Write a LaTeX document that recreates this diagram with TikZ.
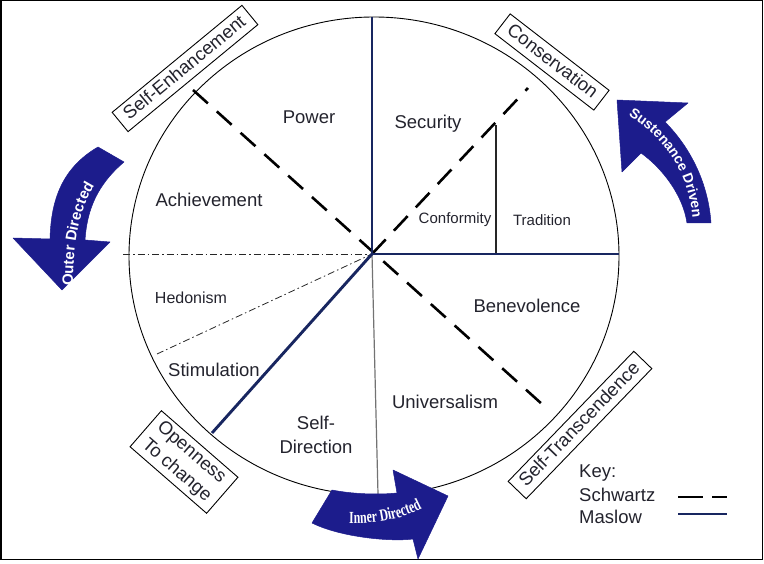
\documentclass[tikz,border=0pt]{standalone}
\usepackage{fontspec}
\setmainfont{Liberation Sans}
\newfontfamily\arrowserif[FakeStretch=0.7]{Liberation Serif}
\usetikzlibrary{decorations.text}
\definecolor{arrowblue}{RGB}{28,28,140}
\definecolor{maslow}{RGB}{24,38,96}
\definecolor{labeltext}{RGB}{35,35,45}
\begin{document}
\begin{tikzpicture}[x=1pt,y=-1pt,
  lbl/.style={font=\fontsize{18.5}{22}\selectfont, text=labeltext, inner sep=0pt},
  smalllbl/.style={font=\fontsize{15}{18}\selectfont, text=labeltext, inner sep=0pt},
  catbox/.style={draw=black, line width=0.9pt, fill=white, font=\fontsize{18.5}{23}\selectfont,
    text=labeltext, inner xsep=8pt, inner ysep=4pt, text height=13.5pt, text depth=3.5pt},
  schwartz/.style={line width=2.6pt, dash pattern=on 20pt off 12pt, black},
  maslowline/.style={line width=2.9pt, maslow},
  dashdot/.style={line width=0.8pt, dash pattern=on 7pt off 3pt on 1.5pt off 3pt, black!85},
  bigarrow/.style={fill=arrowblue, draw=arrowblue, line width=0.5pt, line join=round},
]
\useasboundingbox (0,0) rectangle (764,564);
\draw[line width=1.5pt] (0.75,0.75) rectangle (762.5,559.5);

% circle
\coordinate (oc) at (374,256);
\draw[line width=0.9pt] (oc) ellipse [x radius=245pt, y radius=239pt];

% coordinates
\coordinate (c) at (372,254);
\coordinate (mTop) at (372,17);
\coordinate (mRight) at (619,254);
\coordinate (mLL) at (212,433);
\coordinate (sTL) at (193,90);
\coordinate (sBR) at (543,405);
\coordinate (sTR) at (528,88);
\coordinate (hL) at (123,254);
\coordinate (dL) at (157,354);
\coordinate (gB) at (378,494);
\coordinate (tT) at (496,125);
\coordinate (tB) at (496,254);

% thin lines
\draw[dashdot] (hL) -- (c);
\draw[dashdot] (dL) -- (c);
\draw[line width=1.2pt, black!55] (c) -- (gB);
\draw[line width=1.2pt, black!85] (tT) -- (tB);
% Schwartz
\draw[schwartz] (sTL) -- (sBR);
\draw[schwartz] (c) -- (sTR);
% Maslow
\draw[maslowline] (mTop) -- (c);
\draw[maslowline] (c) -- (mRight);
\draw[maslowline] (c) -- (mLL);

% value labels
\node[lbl] (power) at (309,117) {Power};
\node[lbl] (security) at (428,124) {Security};
\node[lbl] (achieve) at (209,200) {Achievement};
\node[smalllbl] (conform) at (455,220) {Conformity};
\node[smalllbl] (trad) at (542,220) {Tradition};
\node[smalllbl, font=\fontsize{16}{18}\selectfont] (hedon) at (191,298) {Hedonism};
\node[lbl] (benev) at (527,306) {Benevolence};
\node[lbl] (stim) at (214,370) {Stimulation};
\node[lbl] (univ) at (445,402) {Universalism};
\node[lbl, align=center, font=\fontsize{18.5}{24}\selectfont] (selfdir) at (316,435) {Self-\\Direction};

% category boxes
\node[catbox, rotate=39.5] (selfenh) at (185,68.5) {Self-Enhancement};
\node[catbox, rotate=-37.7] (conserv) at (552,62) {Conservation};
\node[catbox, rotate=46] (selftr) at (580,425) {Self-Transcendence};
\node[catbox, rotate=-41, align=left, text height=, text depth=] (open) at (184,462) {Openness\\To change};

% big arrows
\fill[bigarrow] (617,100) -- (688,103) -- (665,122)
  .. controls (688,145) and (708,180) .. (711,223) -- (687,223)
  .. controls (683,195) and (662,168) .. (641,153) -- (622,172) -- cycle;
\path[decorate, decoration={text along path, text align=center,
  text={|\fontsize{14}{14}\selectfont\bfseries\color{white}|Sustenance Driven}}]
  (623,112) .. controls (655,130) and (690,165) .. (693,224);

\fill[bigarrow] (62,290) -- (13,238) -- (50,239)
  .. controls (51,200) and (62,168) .. (98,147) -- (124,162)
  .. controls (97,185) and (87,210) .. (85,240) -- (110,242) -- cycle;
\path[decorate, decoration={text along path, text align=left,
  text={|\fontsize{15}{15}\selectfont\bfseries\color{white}|Outer Directed}}]
  (73,286) .. controls (73,225) and (85,185) .. (118,160);

\fill[bigarrow] (312,523) -- (332,490) .. controls (352,494) and (378,495) .. (397,493)
  -- (393,470) -- (448,496) -- (418,559) -- (413,539)
  .. controls (390,542) and (340,537) .. (312,523) -- cycle;
\path[decorate, decoration={text along path, text align=center,
  text={|\arrowserif\fontsize{17}{17}\selectfont\bfseries\color{white}|Inner Directed}}]
  (340,523) .. controls (372,525) and (405,520) .. (430,504);

% key
\node[lbl, anchor=west] (key) at (579,473) {Key:};
\node[lbl, anchor=west] (ksch) at (579,495) {Schwartz};
\node[lbl, anchor=west] (kmas) at (579,517) {Maslow};
\coordinate (ks1) at (678,497);
\coordinate (ks2) at (727,497);
\coordinate (km1) at (678,514);
\coordinate (km2) at (727,514);
\draw[line width=2.4pt, dash pattern=on 25pt off 9pt] (ks1) -- (ks2);
\draw[maslowline] (km1) -- (km2);
\end{tikzpicture}
\end{document}
